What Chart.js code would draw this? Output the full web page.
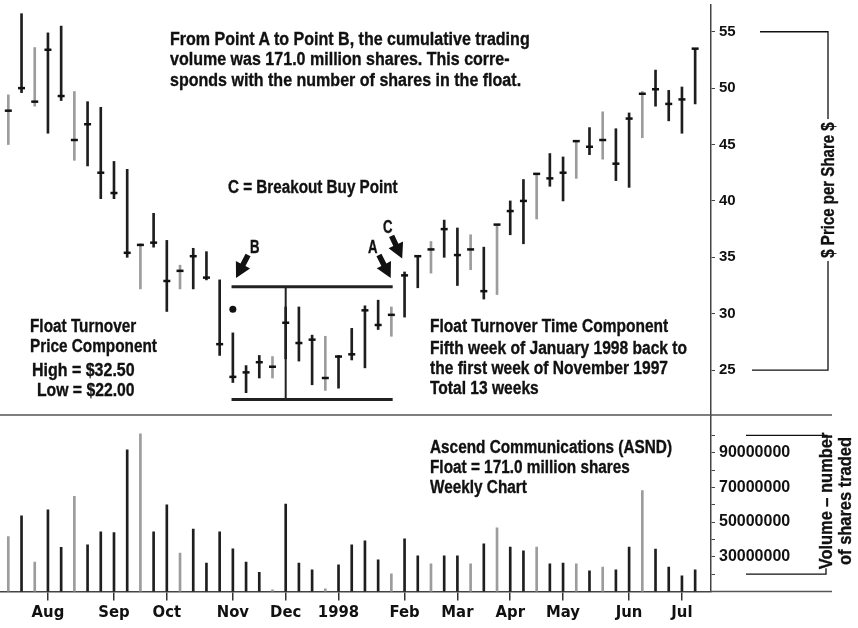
<!DOCTYPE html>
<html>
<head>
<meta charset="utf-8">
<script src="https://cdn.jsdelivr.net/npm/chart.js@4.4.0/dist/chart.umd.min.js"></script>
<style>
  html, body { margin: 0; padding: 0; background: #fff; }
  #wrap { position: relative; width: 858px; height: 628px; overflow: hidden; }
  canvas { position: absolute; left: 0; top: 0; }
  .note {
    position: absolute;
    font-family: "Liberation Sans", Arial, sans-serif;
    font-weight: bold;
    font-size: 18px;
    line-height: 20px;
    color: #111;
    -webkit-text-stroke: 0.35px #111;
    white-space: nowrap;
    transform-origin: left top;
  }
  .axis-title {
    transform-origin: center center;
    text-align: center;
  }
</style>
</head>
<body>
<div id="wrap">
  <canvas id="priceChart" width="858" height="628"></canvas>
  <canvas id="volumeChart" width="858" height="628"></canvas>

  <div class="note" data-fit="360" style="left:170px; top:29px; line-height:20.3px;">From Point A to Point B, the cumulative trading<br>volume was 171.0 million shares. This corre-<br>sponds with the number of shares in the float.</div>
  <div class="note" data-fit="170" style="left:228px; top:177px;">C = Breakout Buy Point</div>
  <div class="note" data-fit="9.5" style="left:250px; top:237px;">B</div>
  <div class="note" data-fit="9.5" style="left:368px; top:237px;">A</div>
  <div class="note" data-fit="9.5" style="left:383px; top:217px;">C</div>
  <div class="note" data-fit="127" style="left:30px; top:317px; line-height:19.5px;">Float Turnover<br>Price Component</div>
  <div class="note" data-fit="103" style="left:32px; top:360px;">High = $32.50</div>
  <div class="note" data-fit="98" style="left:37px; top:380px;">Low = $22.00</div>
  <div class="note" data-fit="238" style="left:430px; top:316px;">Float Turnover Time Component</div>
  <div class="note" data-fit="257" style="left:430px; top:338px;">Fifth week of January 1998 back to<br>the first week of November 1997<br>Total 13 weeks</div>
  <div class="note" data-fit="242" style="left:430px; top:437px;">Ascend Communications (ASND)<br>Float = 171.0 million shares<br>Weekly Chart</div>

  <div class="note axis-title" data-fit="142" style="left:828px; top:190px; background:#fff; padding:0 4px;">$ Price per Share $</div>
  <div class="note axis-title" data-fit="137" style="left:836px; top:501px; line-height:19px;">Volume – number<br>of shares traded</div>
</div>

<script>
// weekly bars, week 0 = week ending 11 Jul 1997, week 52 = 10 Jul 1998
const highs = [49.4, 56.6, 53.6, 54.9, 55.5, 49.7, 48.8, 48.3, 43.5, 42.8,
  36.2, 38.9, 36.5, 34.3, 35.8, 35.5, 33.0, 28.3, 25.4, 26.3,
  26.2, 30.6, 30.6, 28.1, 28.0, 26.3, 28.7, 30.7, 31.2, 30.6,
  33.7, 35.1, 36.4, 38.3, 37.6, 37.0, 35.9, 37.9, 40.0, 41.9,
  42.4, 44.2, 43.9, 45.3, 46.5, 47.9, 46.4, 47.8, 49.7, 51.6,
  49.8, 50.1, 53.5];
const lows = [45.0, 49.6, 48.4, 46.0, 48.9, 43.6, 43.1, 40.2, 40.2, 35.0,
  32.2, 35.9, 30.2, 32.2, 32.2, 33.0, 26.3, 23.9, 23.0, 24.3,
  24.3, 26.0, 25.8, 23.7, 23.2, 23.4, 25.9, 25.2, 28.6, 28.0,
  29.7, 32.3, 33.6, 35.0, 32.5, 33.9, 31.3, 31.7, 37.0, 36.2,
  38.4, 41.3, 40.0, 42.0, 44.1, 43.7, 41.8, 41.2, 45.6, 48.4,
  47.1, 46.0, 48.6];
const closes = [48.0, 50.0, 48.8, 53.4, 49.3, 45.4, 46.8, 42.5, 40.7, 35.4,
  36.1, 36.3, 32.9, 33.8, 35.1, 33.2, 27.3, 24.4, 24.8, 25.7,
  25.3, 29.2, 27.4, 27.7, 24.3, 26.2, 26.4, 30.3, 29.0, 29.9,
  33.4, 35.1, 35.7, 37.5, 35.2, 35.7, 32.0, 37.9, 39.1, 40.0,
  42.4, 42.0, 42.5, 45.3, 44.8, 45.4, 43.3, 47.3, 49.5, 49.9,
  48.6, 49.0, 53.5];
const volumeMillions = [41.7, 53.6, 26.9, 57.1, 35.4, 64.8, 36.9, 44.4, 44.0, 91.7,
  100.9, 44.4, 60.0, 32.1, 46.0, 26.4, 44.4, 34.6, 26.9, 21.0,
  11.0, 60.4, 26.4, 22.5, 11.6, 25.4, 36.9, 39.2, 28.3, 20.2,
  40.4, 30.6, 26.0, 30.6, 30.6, 26.0, 37.5, 46.7, 35.6, 33.5,
  35.6, 26.0, 26.4, 26.0, 21.9, 24.1, 22.5, 35.6, 68.2, 34.4,
  24.1, 19.0, 22.5];

const monthTickWeeks = [3, 8, 12, 17, 21, 25, 30, 34, 38, 42, 47, 51];
const monthLabels = ["Aug", "Sep", "Oct", "Nov", "Dec", "1998", "Feb", "Mar", "Apr", "May", "Jun", "Jul"];
const priceTicks = [25, 30, 35, 40, 45, 50, 55];
const volumeTicks = [20, 30, 40, 50, 60, 70, 80, 90, 100]; // millions
const volumeLabelTicks = [30, 50, 70, 90];

// event dot above the November bar
const markerWeeks = [17];
const markerPrices = [30.4];

// float turnover box: point B (week 17) to point A (week 29)
const floatStartWeek = 17;
const floatEndWeek = 29;
const floatTop = 32.4;
const floatBottom = 22.4;

// annotation arrows, [week, price]
const arrows = [
  { from: [18.15, 35.2], to: [17.24, 33.16] }, // B
  { from: [28.06, 35.2], to: [28.95, 33.16] }, // A
  { from: [29.02, 36.9], to: [29.82, 34.9] }, // C
];

const grayWeeks = [0, 2, 5, 10, 13, 20, 24, 29, 32, 35, 37, 40, 43, 45, 48];
const weeks = highs.map((_, i) => i);
const barColor = (i) => (grayWeeks.includes(i) ? "#9c9c9c" : "#1e1e1e");

const X_MIN = -0.63;
const X_MAX = 53.2;
const AXIS_BOX = 147;
const INK = "#111";
const AXIS_COLOR = "#444";

// squeeze the notes to the narrow face of the original
document.querySelectorAll(".note[data-fit]").forEach((el) => {
  const k = Number(el.dataset.fit) / el.offsetWidth;
  const pre = el.classList.contains("axis-title") ? "translate(-50%, -50%) rotate(-90deg) " : "";
  el.style.transform = pre + "scaleX(" + k.toFixed(3) + ")";
});

const arrowPlugin = {
  id: "arrows",
  afterDatasetsDraw(chart) {
    const { ctx } = chart;
    const x = chart.scales.x;
    const y = chart.scales.y;
    ctx.save();
    ctx.fillStyle = INK;
    arrows.forEach((a) => {
      const x0 = x.getPixelForValue(a.from[0]);
      const y0 = y.getPixelForValue(a.from[1]);
      const x1 = x.getPixelForValue(a.to[0]);
      const y1 = y.getPixelForValue(a.to[1]);
      const len = Math.hypot(x1 - x0, y1 - y0);
      const ux = (x1 - x0) / len, uy = (y1 - y0) / len;
      const nx = -uy, ny = ux;
      const head = 15, hw = 8, sw = 2.8;
      const bx = x1 - ux * head, by = y1 - uy * head;
      ctx.beginPath();
      ctx.moveTo(x0 + nx * sw, y0 + ny * sw);
      ctx.lineTo(bx + nx * sw, by + ny * sw);
      ctx.lineTo(bx + nx * hw, by + ny * hw);
      ctx.lineTo(x1, y1);
      ctx.lineTo(bx - nx * hw, by - ny * hw);
      ctx.lineTo(bx - nx * sw, by - ny * sw);
      ctx.lineTo(x0 - nx * sw, y0 - ny * sw);
      ctx.closePath();
      ctx.fill();
    });
    ctx.restore();
  },
};

const priceBracket = {
  id: "priceBracket",
  afterDraw(chart) {
    const { ctx } = chart;
    const y = chart.scales.y;
    const top = y.getPixelForValue(priceTicks[priceTicks.length - 1]);
    const bottom = y.getPixelForValue(priceTicks[0]);
    ctx.save();
    ctx.strokeStyle = INK;
    ctx.lineWidth = 1.3;
    ctx.beginPath();
    ctx.moveTo(760, top);
    ctx.lineTo(828, top);
    ctx.lineTo(828, bottom);
    ctx.lineTo(752, bottom);
    ctx.stroke();
    ctx.restore();
  },
};

const volumeFrame = {
  id: "volumeFrame",
  afterDraw(chart) {
    const { ctx, chartArea } = chart;
    const y = chart.scales.y;
    const top = y.getPixelForValue(volumeTicks[volumeTicks.length - 1] * 1e6);
    const bottom = y.getPixelForValue(volumeTicks[0] * 1e6);
    ctx.save();
    ctx.strokeStyle = "#555";
    ctx.lineWidth = 1.5;
    ctx.beginPath();
    ctx.moveTo(0, chartArea.top);
    ctx.lineTo(832, chartArea.top);
    ctx.moveTo(chartArea.right, chartArea.bottom);
    ctx.lineTo(832, chartArea.bottom);
    ctx.stroke();
    ctx.strokeStyle = INK;
    ctx.lineWidth = 1.3;
    ctx.beginPath();
    ctx.moveTo(746, top);
    ctx.lineTo(827, top);
    ctx.lineTo(827, top + 6);
    ctx.moveTo(746, bottom);
    ctx.lineTo(826, bottom);
    ctx.lineTo(826, bottom - 6);
    ctx.stroke();
    ctx.restore();
  },
};

const hidden = { legend: { display: false }, tooltip: { enabled: false } };

new Chart(document.getElementById("priceChart"), {
  type: "bar",
  data: {
    datasets: [
      {
        type: "bar",
        data: weeks.map((i) => ({ x: i, y: [lows[i], highs[i]] })),
        backgroundColor: weeks.map(barColor),
        borderWidth: 0,
        barThickness: 2,
        order: 3,
      },
      {
        type: "line",
        data: weeks.map((i) => ({ x: i, y: closes[i] })),
        showLine: false,
        pointStyle: "line",
        pointRadius: 3.5,
        pointBorderWidth: 2.5,
        pointBorderColor: INK,
        order: 1,
      },
      {
        type: "line",
        data: markerWeeks.map((w, k) => ({ x: w, y: markerPrices[k] })),
        showLine: false,
        pointStyle: "circle",
        pointRadius: 3.5,
        pointBorderWidth: 0,
        pointBackgroundColor: INK,
        order: 1,
      },
      {
        type: "line",
        data: [{ x: floatStartWeek - 0.1, y: floatTop }, { x: floatEndWeek + 0.1, y: floatTop }],
        borderColor: "#222",
        borderWidth: 3,
        pointRadius: 0,
        order: 2,
      },
      {
        type: "line",
        data: [{ x: floatStartWeek - 0.1, y: floatBottom }, { x: floatEndWeek + 0.1, y: floatBottom }],
        borderColor: "#222",
        borderWidth: 3,
        pointRadius: 0,
        order: 2,
      },
      {
        type: "line",
        data: [{ x: 21, y: floatTop }, { x: 21, y: floatBottom }],
        borderColor: "#222",
        borderWidth: 2,
        pointRadius: 0,
        order: 2,
      },
    ],
  },
  options: {
    responsive: false,
    animation: false,
    layout: { autoPadding: false, padding: { top: 5, bottom: 213, left: 0, right: 0 } },
    plugins: hidden,
    scales: {
      x: {
        type: "linear",
        min: X_MIN,
        max: X_MAX,
        bounds: "data",
        offset: false,
        display: false,
        grid: { offset: false },
      },
      y: {
        position: "right",
        min: 21.02,
        max: 57.37,
        bounds: "data",
        beginAtZero: false,
        afterBuildTicks(s) { s.ticks = priceTicks.map((v) => ({ value: v })); },
        afterFit(s) { s.width = AXIS_BOX; s.paddingTop = 0; s.paddingBottom = 0; },
        ticks: {
          autoSkip: false,
          padding: 4,
          color: INK,
          callback: (v) => String(v),
          font: { family: "Liberation Sans", weight: "bold", size: 15 },
        },
        grid: { drawOnChartArea: false, tickLength: 4, color: AXIS_COLOR, lineWidth: 1 },
        border: { color: AXIS_COLOR, width: 1.5 },
      },
    },
  },
  plugins: [arrowPlugin, priceBracket],
});

new Chart(document.getElementById("volumeChart"), {
  type: "bar",
  data: {
    datasets: [
      {
        data: weeks.map((i) => ({ x: i, y: volumeMillions[i] * 1e6 })),
        backgroundColor: weeks.map(barColor),
        borderWidth: 0,
        barThickness: 2,
      },
    ],
  },
  options: {
    responsive: false,
    animation: false,
    layout: { autoPadding: false, padding: { top: 415, bottom: 0, left: 0, right: 0 } },
    plugins: hidden,
    scales: {
      x: {
        type: "linear",
        min: X_MIN,
        max: X_MAX,
        bounds: "data",
        offset: false,
        afterBuildTicks(s) { s.ticks = monthTickWeeks.map((v) => ({ value: v })); },
        afterFit(s) { s.height = 36.5; },
        ticks: {
          autoSkip: false,
          maxRotation: 0,
          padding: 2,
          color: INK,
          callback: (v, i) => monthLabels[i],
          font: { family: "DejaVu Sans Condensed", weight: "bold", size: 16.5 },
        },
        grid: { offset: false, drawOnChartArea: false, tickLength: 9, color: "#333", lineWidth: 1.5 },
        border: { color: AXIS_COLOR, width: 1.5 },
      },
      y: {
        position: "right",
        min: 10e6,
        max: 111.7e6,
        bounds: "data",
        beginAtZero: false,
        afterBuildTicks(s) { s.ticks = volumeTicks.map((m) => ({ value: m * 1e6 })); },
        afterFit(s) { s.width = AXIS_BOX; s.paddingTop = 0; s.paddingBottom = 0; },
        ticks: {
          autoSkip: false,
          padding: 4,
          color: INK,
          callback: (v) => {
            const m = Math.round(v / 1e6);
            return volumeLabelTicks.includes(m) ? String(m * 1e6) : "";
          },
          font: { family: "Liberation Sans", weight: "bold", size: 16 },
        },
        grid: { drawOnChartArea: false, tickLength: 4, color: AXIS_COLOR, lineWidth: 1 },
        border: { color: AXIS_COLOR, width: 1.5 },
      },
    },
  },
  plugins: [volumeFrame],
});
</script>
</body>
</html>
